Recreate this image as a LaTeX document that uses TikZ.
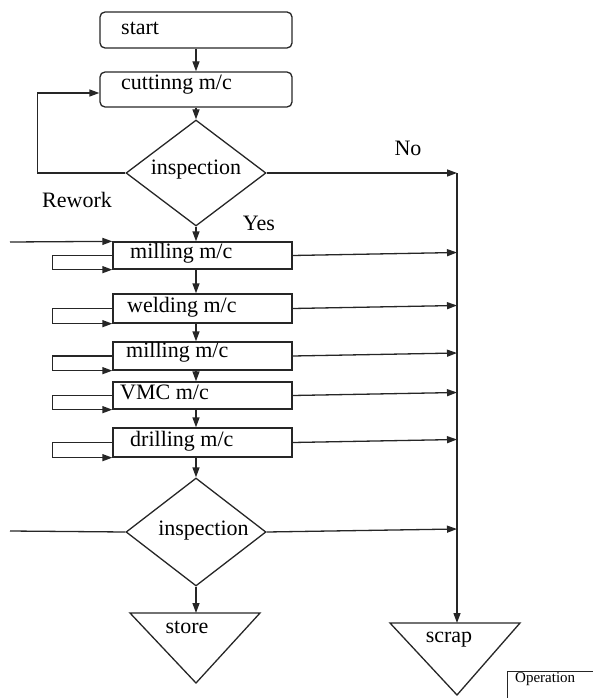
\documentclass[tikz,border=0pt]{standalone}
\usepackage{fontspec}
\setmainfont{Liberation Serif}
\usetikzlibrary{shapes.geometric,arrows.meta}
\begin{document}
\begin{tikzpicture}[x=1pt,y=-1pt,
  line/.style={line width=1.3pt, draw=black!85},
  arr/.style={line, -{Triangle[length=10pt,width=7pt]}},
  box/.style={draw=black!85, line width=1.3pt, minimum width=179pt, inner sep=0pt},
  txt/.style={font=\fontsize{22}{24}\selectfont, inner sep=0pt},
  dia/.style={diamond, draw=black!85, line width=1.3pt, minimum width=140pt, minimum height=106pt, inner sep=0pt, aspect=1.32}
]
\useasboundingbox (0,0) rectangle (593,698);

% shapes
\node[box, rounded corners=5pt, minimum width=192pt, minimum height=36pt] (start) at (196,30) {};
\node[box, rounded corners=5pt, minimum width=192pt, minimum height=35pt] (cut) at (196,89.5) {};
\node[dia] (d1) at (196,173) {};
\node[box, minimum height=27pt] (m1) at (202.5,255.5) {};
\node[box, minimum height=29pt] (w) at (202.5,308.5) {};
\node[box, minimum height=28pt] (m2) at (202.5,356) {};
\node[box, minimum height=27pt] (vmc) at (202.5,395.5) {};
\node[box, minimum height=29pt] (dr) at (202.5,442.5) {};
\node[dia, minimum height=108pt] (d2) at (196,532) {};
\coordinate (store) at (196,613);
\coordinate (scrap) at (457,623);
\coordinate (s0) at (457,173);
\coordinate (in1) at (10,242);
\coordinate (in2) at (10,531);
\draw[line] ([xshift=-66pt]store) -- ([xshift=64pt]store) -- ([yshift=-70pt]store) -- cycle;
\draw[line] ([xshift=-67pt]scrap) -- ([xshift=63pt]scrap) -- ([yshift=-72pt]scrap) -- cycle;
\draw[line width=0.8pt, draw=black!85] (507,705) |- (600,671);

% texts
\node[txt, anchor=west] (tstart) at (121,28) {start};
\node[txt, anchor=west] (tcut) at (121,85) {cuttinng m/c};
\node[txt] (td1) at (196,170) {inspection};
\node[txt] (trew) at (77,200) {Rework};
\node[txt] (tyes) at (259,223) {Yes};
\node[txt] (tno) at (408,148) {No};
\node[txt, anchor=west] (tm1) at (130,253) {milling m/c};
\node[txt, anchor=west] (tw) at (127,307) {welding m/c};
\node[txt, anchor=west] (tm2) at (126,352) {milling m/c};
\node[txt, anchor=west] (tv) at (120,392) {VMC m/c};
\node[txt, anchor=west] (tdr) at (130,441) {drilling m/c};
\node[txt] (td2) at (203.5,531) {inspection};
\node[txt] (tstore) at (187,627) {store};
\node[txt] (tscrap) at (449,640) {scrap};
\node[anchor=west, font=\fontsize{15}{17}\selectfont, inner sep=0pt] (top) at (515,679) {Operation};

% main flow
\draw[arr] (start.south) -- (cut.north);
\draw[arr] (cut.south) -- (d1.north);
\draw[arr] (d1.south) -- (m1.north -| d1.south);
\draw[arr] (m1.south -| d1.south) -- (w.north -| d1.south);
\draw[arr] (w.south -| d1.south) -- (m2.north -| d1.south);
\draw[arr] (m2.south -| d1.south) -- (vmc.north -| d1.south);
\draw[arr] (vmc.south -| d1.south) -- (dr.north -| d1.south);
\draw[arr] (dr.south -| d1.south) -- (d2.north);
\draw[arr] (d2.south) -- (store);

% rework
\draw[arr] (d1.west) -- ++(-88,0) |- ([yshift=-3.5pt]cut.west);

% no / scrap line
\draw[arr] (d1.east) -- (s0);
\draw[arr] (s0) -- (scrap);
\foreach \b in {m1,w,m2,vmc,dr,d2}
  \draw[arr] (\b.east) -- ([yshift=3pt]\b.east -| s0);

% inputs
\draw[arr] (in1) -- (m1.north west);
\draw[line] (in2) -- (d2.west);

% loops
\foreach \b in {m1,w,m2,vmc,dr}
  \draw[arr] (\b.west) -- ++(-60,0) |- (\b.south west);
\end{tikzpicture}
\end{document}
